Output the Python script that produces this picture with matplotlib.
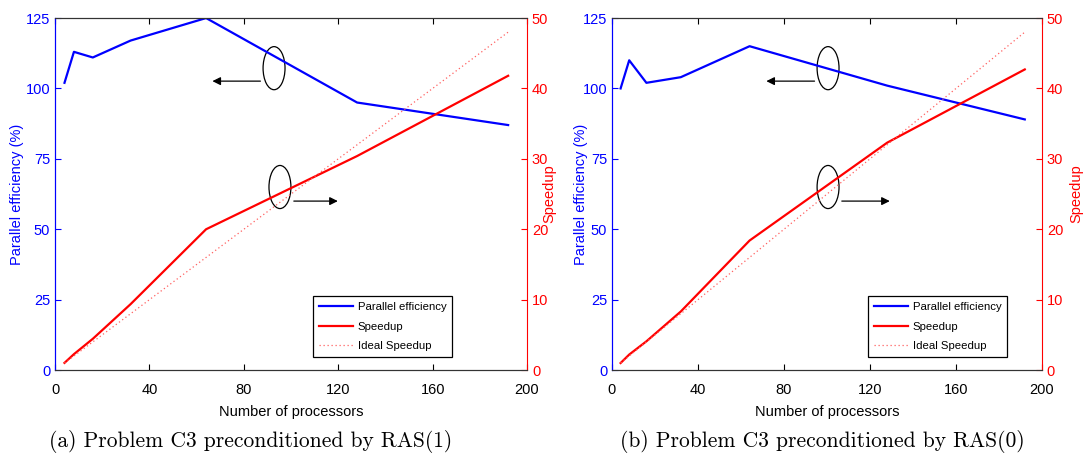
import matplotlib
matplotlib.use("Agg")
import matplotlib.pyplot as plt
from matplotlib.patches import Ellipse

plt.rcParams['font.family'] = ['Liberation Sans', 'DejaVu Sans']

# processors
procs = [4, 8, 16, 32, 64, 128, 192]

# (a) RAS(1)
eff_a = [102, 113, 111, 117, 125, 95, 87]
speed_a = [1.02, 2.26, 4.44, 9.36, 20.0, 30.4, 41.8]
# (b) RAS(0)
eff_b = [100, 110, 102, 104, 115, 101, 89]
speed_b = [1.0, 2.2, 4.08, 8.32, 18.4, 32.3, 42.7]
ideal = [1, 2, 4, 8, 16, 32, 48]

captions = ["(a) Problem C3 preconditioned by RAS(1)",
            "(b) Problem C3 preconditioned by RAS(0)"]

# ellipse/arrow annotations: (ellipse x, ellipse w, arrow start, arrow end)
ann_upper = [(92.8, 9.3, 88.2, 65.5), (100.5, 10.2, 95.5, 70.5)]
ann_lower = [(95.3, 9.3, 100.0, 121.0), (100.5, 10.2, 105.6, 130.5)]

fig = plt.figure(figsize=(10.88, 4.58), dpi=100)
positions = [[0.0506, 0.192, 0.4338, 0.7686], [0.5625, 0.192, 0.3952, 0.7686]]
eff_label_x = [-0.0805, -0.072]
spd_label_x = [1.047, 1.079]
caption_x = [0.2307, 0.7555]
legend_right = [0.841, 0.919]

for i, (eff, spd) in enumerate([(eff_a, speed_a), (eff_b, speed_b)]):
    ax = fig.add_axes(positions[i])
    ax2 = ax.twinx()

    l1, = ax.plot(procs, eff, color='blue', lw=1.6, label='Parallel efficiency')
    l2, = ax2.plot(procs, spd, color='red', lw=1.6, label='Speedup')
    l3, = ax2.plot(procs, ideal, color='#ff6060', lw=0.9, ls=(0, (1, 2.2)),
                   label='Ideal Speedup')

    ax.set_xlim(0, 200)
    ax.set_ylim(0, 125)
    ax2.set_ylim(0, 50)
    ax.set_xticks(range(0, 201, 40))
    ax.set_yticks(range(0, 126, 25))
    ax2.set_yticks(range(0, 51, 10))

    ax.tick_params(axis='x', direction='in', top=True, labelsize=10.5,
                   colors='black', length=4, pad=9)
    ax.tick_params(axis='y', direction='in', colors='blue', labelsize=10.5,
                   length=4)
    ax2.tick_params(axis='y', direction='in', colors='red', labelsize=10.5,
                    length=4)
    ax.spines['left'].set_color('blue')
    ax2.spines['left'].set_color('blue')
    ax2.spines['right'].set_color('red')
    ax.spines['right'].set_visible(False)
    for a in (ax, ax2):
        a.spines['top'].set_color('#333333')
        a.spines['bottom'].set_color('#333333')

    ax.set_xlabel('Number of processors', fontsize=10.5, labelpad=6)
    ax.set_ylabel('Parallel efficiency (%)', color='blue', fontsize=10.5,
                  va='center')
    ax.yaxis.set_label_coords(eff_label_x[i], 0.5)
    ax2.set_ylabel('Speedup', color='red', fontsize=10.5, va='center')
    ax2.yaxis.set_label_coords(spd_label_x[i], 0.5)

    # annotations
    ex, ew, a0, a1 = ann_upper[i]
    ax.add_patch(Ellipse((ex, 107.2), ew, 15.3, fill=False, ec='black', lw=0.9))
    ax.annotate('', xy=(a1, 102.6), xytext=(a0, 102.6),
                arrowprops=dict(arrowstyle='-|>', color='black', lw=0.9,
                                mutation_scale=12))
    ex, ew, a0, a1 = ann_lower[i]
    ax.add_patch(Ellipse((ex, 65.0), ew, 15.3, fill=False, ec='black', lw=0.9))
    ax.annotate('', xy=(a1, 60.0), xytext=(a0, 60.0),
                arrowprops=dict(arrowstyle='-|>', color='black', lw=0.9,
                                mutation_scale=12))

    leg = ax2.legend(handles=[l1, l2, l3], loc='lower right', fontsize=8.2,
                     fancybox=False, edgecolor='black', framealpha=1,
                     bbox_to_anchor=(legend_right[i], 0.037),
                     borderaxespad=0, handlelength=3.0, handletextpad=0.4,
                     borderpad=0.5, labelspacing=0.85)
    leg.get_frame().set_linewidth(0.9)

    fig.text(caption_x[i], 0.037, captions[i], ha='center', va='center',
             fontsize=15.5, family='cmr10')

fig.savefig('out.png', dpi=100)
